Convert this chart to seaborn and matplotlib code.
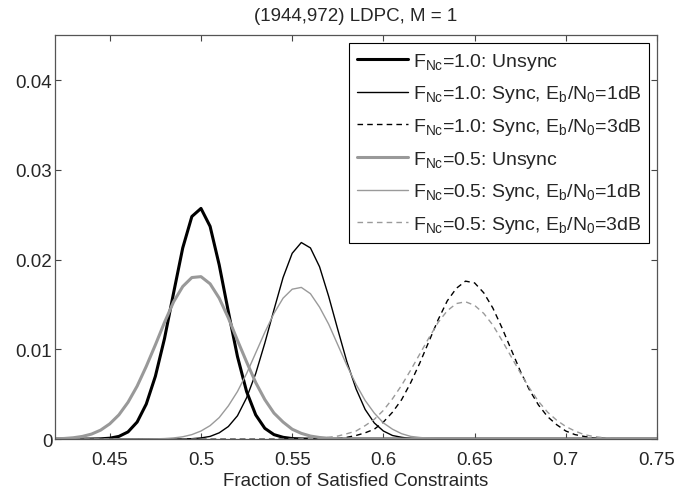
import numpy as np
import pandas as pd
import matplotlib
matplotlib.use("Agg")
import matplotlib.pyplot as plt
import seaborn as sns

sns.set_style("ticks")
plt.rcParams["font.family"] = ["Liberation Sans", "DejaVu Sans"]
plt.rcParams["mathtext.fontset"] = "custom"
plt.rcParams["mathtext.rm"] = "Liberation Sans"
plt.rcParams["mathtext.it"] = "Liberation Sans"

# x grid of the histograms (0.42 .. 0.75, step 0.005)
frac = np.round(np.arange(0.42, 0.7501, 0.005), 3)

# F_Nc = 1.0
unsync_10 = [0, 0, 0, 0, 0.00001, 0.00003, 0.0001, 0.0003, 0.0008, 0.0019,
             0.0039, 0.0070, 0.0112, 0.0163, 0.0213, 0.0248, 0.0257, 0.0237, 0.0194, 0.0142,
             0.0092, 0.0053, 0.0027, 0.0012, 0.0005, 0.0002, 0.00006, 0.00002] + [0] * 39
sync1_10 = [0] * 14 + [0.00002, 0.00005, 0.00013, 0.0003, 0.0007, 0.0014, 0.0026, 0.0046, 0.0073, 0.0107,
                       0.0144, 0.0180, 0.0207, 0.0219, 0.0213, 0.0192, 0.0159, 0.0122, 0.0086, 0.0056,
                       0.0033, 0.0018, 0.0009, 0.0004, 0.0002, 0.00007, 0.00003] + [0] * 26
sync3_10 = [0] * 28 + [0.00001, 0.00002,
                       0.00004, 0.00009, 0.0002, 0.0004, 0.0007, 0.0011, 0.0019, 0.0030, 0.0044, 0.0063,
                       0.0085, 0.0109, 0.0133, 0.0154, 0.0168, 0.0176, 0.0174, 0.0163, 0.0146, 0.0124,
                       0.0100, 0.0076, 0.0055, 0.0038, 0.0025, 0.0016, 0.0009, 0.0005, 0.0003, 0.00014,
                       0.00007, 0.00003] + [0] * 5

# F_Nc = 0.5
unsync_05 = [0.00003, 0.00007, 0.00015, 0.0003, 0.00056, 0.001, 0.0017, 0.0027, 0.0041, 0.0059,
             0.0081, 0.0105, 0.0130, 0.0153, 0.0170, 0.0180, 0.0181, 0.0173, 0.0157, 0.0135,
             0.0110, 0.0086, 0.0063, 0.0044, 0.0029, 0.0019, 0.0011, 0.00064, 0.00034, 0.00018,
             0.00009, 0.00004, 0.00002] + [0] * 34
sync1_05 = [0] * 10 + [0.00001, 0.00003, 0.00006, 0.00013, 0.00026, 0.0005, 0.0009, 0.0015, 0.0024, 0.0037,
                       0.0053, 0.0073, 0.0096, 0.0119, 0.0140, 0.0157, 0.0167, 0.0169, 0.0162, 0.0147,
                       0.0128, 0.0105, 0.0082, 0.0061, 0.0043, 0.0029, 0.0018, 0.0011, 0.0006, 0.0003,
                       0.00018, 0.00009, 0.00004] + [0] * 24
sync3_05 = [0] * 27 + [0.00003, 0.00006, 0.00011,
                       0.0002, 0.00034, 0.0006, 0.0009, 0.0015, 0.0022, 0.0032, 0.0045, 0.0060, 0.0077,
                       0.0095, 0.0113, 0.0130, 0.0143, 0.0151, 0.0153, 0.0149, 0.0140, 0.0127, 0.0110,
                       0.0092, 0.0074, 0.0057, 0.0042, 0.0030, 0.0021, 0.0014, 0.0009, 0.0005, 0.0003,
                       0.00017, 0.00009, 0.00005, 0.00002] + [0] * 3

labels = [
    r"F$_{\rm Nc}$=1.0: Unsync",
    r"F$_{\rm Nc}$=1.0: Sync, E$_{\rm b}$/N$_{\rm 0}$=1dB",
    r"F$_{\rm Nc}$=1.0: Sync, E$_{\rm b}$/N$_{\rm 0}$=3dB",
    r"F$_{\rm Nc}$=0.5: Unsync",
    r"F$_{\rm Nc}$=0.5: Sync, E$_{\rm b}$/N$_{\rm 0}$=1dB",
    r"F$_{\rm Nc}$=0.5: Sync, E$_{\rm b}$/N$_{\rm 0}$=3dB",
]
series = [unsync_10, sync1_10, sync3_10, unsync_05, sync1_05, sync3_05]
colors = ["black", "black", "black", "#999999", "#9a9a9a", "#9a9a9a"]
widths = [2.2, 1.0, 1.0, 2.2, 1.0, 1.0]
styles = ["-", "-", "--", "-", "-", "--"]

xticks = [0.45, 0.5, 0.55, 0.6, 0.65, 0.7, 0.75]
xtick_labels = ["0.45", "0.5", "0.55", "0.6", "0.65", "0.7", "0.75"]
yticks = [0, 0.01, 0.02, 0.03, 0.04]
ytick_labels = ["0", "0.01", "0.02", "0.03", "0.04"]

fs = 13.5

fig, ax = plt.subplots(figsize=(6.88, 4.89), dpi=100)
fig.subplots_adjust(left=0.080, right=0.955, bottom=0.100, top=0.926)

for vals, lab, c, lw, ls in zip(series, labels, colors, widths, styles):
    df = pd.DataFrame({"x": frac, "y": vals})
    sns.lineplot(data=df, x="x", y="y", ax=ax, color=c, linewidth=lw, label=lab)
    if ls == "--":
        ax.lines[-1].set_dashes((4, 3))

ax.set_xlim(0.42, 0.75)
ax.set_ylim(0, 0.045)
ax.set_xticks(xticks)
ax.set_xticklabels(xtick_labels)
ax.set_yticks(yticks)
ax.set_yticklabels(ytick_labels)
ax.tick_params(direction="in", top=True, right=True, labelsize=fs, length=4, color="#444444")
ax.tick_params(axis="y", pad=2)
ax.tick_params(axis="x", pad=8.5)
for s in ax.spines.values():
    s.set_color("#555555")
    s.set_linewidth(0.9)

ax.set_xlabel("Fraction of Satisfied Constraints", fontsize=fs, labelpad=3)
ax.set_ylabel("")
ax.set_title("(1944,972) LDPC, M = 1", fontsize=fs, pad=11)

leg = ax.legend(loc="upper right", fontsize=14, handlelength=2.6, handletextpad=0.25,
                labelspacing=0.6, borderaxespad=0.4, fancybox=False, framealpha=1,
                edgecolor="black", borderpad=0.4)
leg.get_frame().set_linewidth(0.8)

fig.savefig("out.png", dpi=100)
